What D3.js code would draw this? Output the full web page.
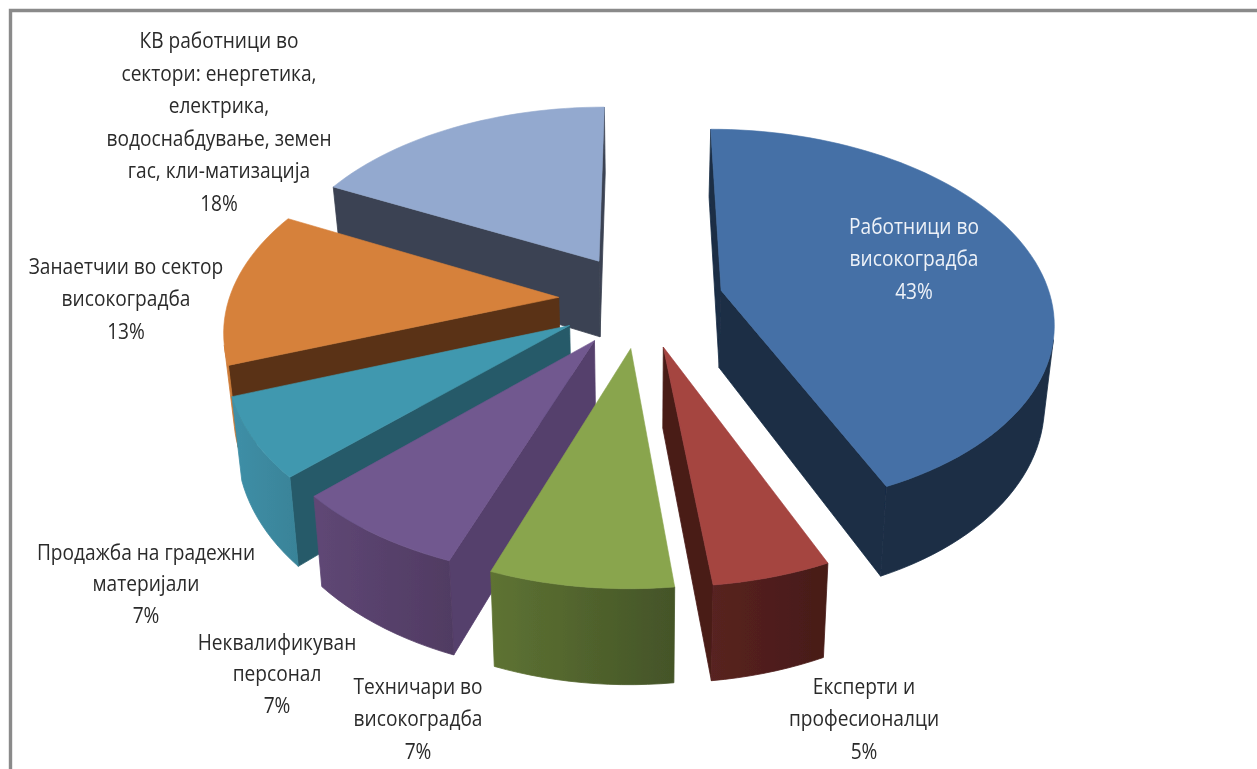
<!DOCTYPE html>
<html><head><meta charset="utf-8">
<script src="https://cdn.jsdelivr.net/npm/d3@7"></script>
<style>html,body{margin:0;padding:0;background:#fff}svg{display:block}</style>
</head><body><svg id="c" width="1257" height="769"></svg>
<script>
const categories = ["Работници во високоградба","Експерти и професионалци","Техничари во високоградба","Неквалификуван персонал","Продажба на градежни материјали","Занаетчии во сектор високоградба","КВ работници во сектори: енергетика, електрика, водоснабдување, земен гас, кли-матизација"];
const values = [43.4,4.8,7.4,7.2,6.6,13,17.6];
const labelLines = [["Работници во","високоградба"],["Експерти и","професионалци"],["Техничари во","високоградба"],["Неквалификуван","персонал"],["Продажба на градежни","материјали"],["Занаетчии во сектор","високоградба"],["КВ работници во","сектори: енергетика,","електрика,","водоснабдување, земен","гас, кли-матизација"]];
const labelX = [914,864,418,277,146,126,219];
const labelY = [234,694,694,650,560,274,48];
const labelStep = [32.5,32.5,32.5,31.5,31.5,32.5,32.6];
const labelFill = ["#eef2f8","#2a2a2a","#2a2a2a","#2a2a2a","#2a2a2a","#2a2a2a","#2a2a2a"];
const topColors = ["#4570a6","#a54441","#89a54e","#71588f","#4198af","#d6813b","#93a9cf"];
const sideColors = ["#1a2d45","#4a1c18","#5e7332","#553f6c","#265a69","#5a3316","#3b4252"];
const arcLeft = ["#1a2d45","#582220","#5e7332","#5f4775","#3f8fa7","#d07c38","#3b4252"];
const arcRight = ["#1a2d45","#471b18","#445428","#503b62","#398398","#c87833","#3b4252"];

const explode=.25, persp=.15, depth=78, bottomShrink=.024;
const cx=641, W=1257, H=769;
const svg=d3.select("#c");
const defs=svg.append("defs");
defs.append("filter").attr("id","soft").attr("x","-5%").attr("y","-5%").attr("width","110%").attr("height","110%")
  .append("feGaussianBlur").attr("stdDeviation",.5);
svg.append("rect").attr("width",W).attr("height",H).attr("fill","#fff");
svg.append("path").attr("d","M10.5,769V10.5H1257").attr("fill","none").attr("stroke","#8a8a8a").attr("stroke-width",3.4);
const xS=d3.scaleLinear().domain([-1,1]).range([cx-330,cx+330]);
const yS=d3.scaleLinear().domain([-1,1]).range([300-188,300+188]);
function proj(wx,wz,wy){const s=1/(1-persp*wz);return [cx+(xS(wx*s)-cx)*(1-bottomShrink*wy),yS(wz*s)+depth*wy*s];}
const arcs=d3.pie().sort(null).startAngle(0).endAngle(2*Math.PI)(values);
const line=d3.line();
const slices=arcs.map((a,i)=>{const m=(a.startAngle+a.endAngle)/2;
  return {i,a,ox:explode*Math.sin(m),oz:-explode*Math.cos(m)};}).sort((p,q)=>p.oz-q.oz);
const g=svg.append("g").attr("filter","url(#soft)");
slices.forEach(sl=>{
  const {i,a,ox,oz}=sl;
  const n=Math.max(2,Math.ceil((a.endAngle-a.startAngle)/(Math.PI/90)));
  const rim=d3.range(n+1).map(k=>{const t=a.startAngle+(a.endAngle-a.startAngle)*k/n;return [ox+Math.sin(t),oz-Math.cos(t)];});
  const apex=[ox,oz];
  const quad=(A,B)=>[proj(A[0],A[1],0),proj(B[0],B[1],0),proj(B[0],B[1],1),proj(A[0],A[1],1)];
  const front=q=>d3.polygonArea(q)>0;
  [[apex,rim[0]],[rim[n],apex]].forEach(([A,B])=>{
    const q=quad(A,B);
    if(front(q)) g.append("path").attr("d",line(q)+"Z").attr("fill",sideColors[i]).attr("stroke",sideColors[i]).attr("stroke-width",.8).attr("stroke-linejoin","round");
  });
  const vis=d3.range(n).filter(k=>front(quad(rim[k],rim[k+1])));
  if(vis.length){
    const idx=[...vis,vis[vis.length-1]+1];
    const topEdge=idx.map(k=>proj(rim[k][0],rim[k][1],0));
    const botEdge=idx.map(k=>proj(rim[k][0],rim[k][1],1)).reverse();
    const poly=[...topEdge,...botEdge];
    const [x0,x1]=d3.extent(poly,p=>p[0]);
    const grad=defs.append("linearGradient").attr("id","wall"+i).attr("gradientUnits","userSpaceOnUse")
      .attr("x1",x0).attr("x2",x1).attr("y1",0).attr("y2",0);
    grad.append("stop").attr("offset",0).attr("stop-color",arcLeft[i]);
    grad.append("stop").attr("offset",1).attr("stop-color",arcRight[i]);
    g.append("path").attr("d",line(poly)+"Z").attr("fill",`url(#wall${i})`).attr("stroke",`url(#wall${i})`).attr("stroke-width",.8).attr("stroke-linejoin","round");
  }
  const top=[apex,...rim].map(p=>proj(p[0],p[1],0));
  g.append("path").attr("d",line(top)+"Z").attr("fill",topColors[i]).attr("stroke",topColors[i]).attr("stroke-width",.6).attr("stroke-linejoin","round");
});
const lab=svg.append("g").attr("filter","url(#soft)").attr("font-family","'Open Sans',sans-serif").attr("font-size",22).attr("text-anchor","middle");
const sx=.87;
categories.forEach((c,i)=>{
  const lines=[...labelLines[i],Math.round(values[i])+"%"];
  const t=lab.append("text").attr("fill",labelFill[i]).attr("transform",`translate(${labelX[i]},0) scale(${sx},1)`);
  lines.forEach((l,k)=>t.append("tspan").attr("x",0).attr("y",labelY[i]+k*labelStep[i]).text(l));
});
</script></body></html>
